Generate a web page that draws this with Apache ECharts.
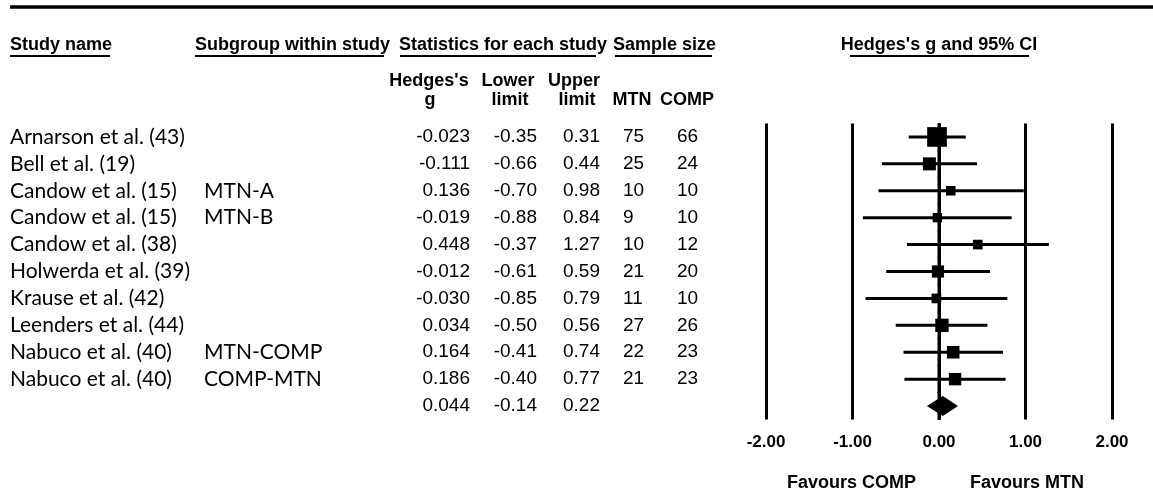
<!DOCTYPE html>
<html>
<head>
<meta charset="utf-8">
<script src="https://cdn.jsdelivr.net/npm/echarts@6/dist/echarts.min.js"></script>
<style>
html,body{margin:0;padding:0;background:#fff;}
#chart{width:1153px;height:498px;}
</style>
</head>
<body>
<div id="chart"></div>
<script>
// ---- data ----
const studyNames = ['Arnarson et al. (43)', 'Bell et al. (19)', 'Candow et al. (15)', 'Candow et al. (15)', 'Candow et al. (38)', 'Holwerda et al. (39)', 'Krause et al. (42)', 'Leenders et al. (44)', 'Nabuco et al. (40)', 'Nabuco et al. (40)', ''];
const subgroups = ['', '', 'MTN-A', 'MTN-B', '', '', '', '', 'MTN-COMP', 'COMP-MTN', ''];
const hedgesG = [-0.023, -0.111, 0.136, -0.019, 0.448, -0.012, -0.030, 0.034, 0.164, 0.186, 0.044];
const lowerLimit = [-0.35, -0.66, -0.70, -0.88, -0.37, -0.61, -0.85, -0.50, -0.41, -0.40, -0.14];
const upperLimit = [0.31, 0.44, 0.98, 0.84, 1.27, 0.59, 0.79, 0.56, 0.74, 0.77, 0.22];
const sampleMTN = [75, 25, 10, 9, 10, 21, 11, 27, 22, 21, null];
const sampleCOMP = [66, 24, 10, 10, 12, 20, 10, 26, 23, 23, null];
const summaryRow = 10;
const xTickMin = -2, xTickMax = 2, xTickStep = 1;
const nullEffect = 0;

// ---- layout ----
const rowIds = studyNames.map((_, i) => 'r' + i);
const GRID_TOP = 123.5, GRID_H = 296;
const numFont = '19px "Liberation Sans", Arial, sans-serif';
const nameFont = '21px Lato, "Noto Sans", sans-serif';
const boldFont = 'bold 18px "Liberation Sans", Arial, sans-serif';

const chart = echarts.init(document.getElementById('chart'), null, {renderer: 'canvas'});

function txt(x, y, text, font, align) {
  return {type: 'text', x: x, y: y, silent: true,
    style: {text: text, font: font, fill: '#000', textAlign: align || 'left', textVerticalAlign: 'middle'}};
}
function hline(x1, x2, y, w) {
  return {type: 'line', silent: true, shape: {x1: x1, y1: y, x2: x2, y2: y}, style: {stroke: '#000', lineWidth: w}};
}

const tableCols = {name: 10, sub: 204, g: 470, lo: 537, hi: 600, mtn: 623, comp: 677};

const option = {
  animation: false,
  backgroundColor: '#fff',
  grid: [
    {left: 766, width: 346, top: GRID_TOP, height: GRID_H},
    {left: 0, width: 740, top: GRID_TOP, height: GRID_H}
  ],
  xAxis: [
    {gridIndex: 0, type: 'value', min: xTickMin, max: xTickMax, interval: xTickStep,
      axisLine: {show: false}, axisTick: {show: false},
      splitLine: {show: true, lineStyle: {color: '#000', width: 3}},
      axisLabel: {formatter: v => v.toFixed(2), fontWeight: 'bold', fontSize: 17, color: '#000',
        fontFamily: '"Liberation Sans", Arial, sans-serif', margin: 14}},
    {gridIndex: 1, type: 'value', min: 0, max: 740, show: false}
  ],
  yAxis: [
    {gridIndex: 0, type: 'category', data: rowIds, inverse: true, show: false},
    {gridIndex: 1, type: 'category', data: rowIds, inverse: true, show: false}
  ],
  graphic: [
    hline(10, 1153, 7, 3.5),
    txt(10, 45, 'Study name', boldFont),
    hline(10, 110, 56, 2),
    txt(195, 45, 'Subgroup within study', boldFont),
    hline(195, 384, 56, 2),
    txt(399, 45, 'Statistics for each study', boldFont),
    hline(400, 596, 56, 2),
    txt(613, 45, 'Sample size', boldFont),
    hline(615, 712, 56, 2),
    txt(939, 45, "Hedges's g and 95% CI", boldFont, 'center'),
    hline(850, 1029, 56, 2),
    txt(429, 81, "Hedges's", boldFont, 'center'),
    txt(430, 100, 'g', boldFont, 'center'),
    txt(508, 81, 'Lower', boldFont, 'center'),
    txt(510, 100, 'limit', boldFont, 'center'),
    txt(574, 81, 'Upper', boldFont, 'center'),
    txt(577, 100, 'limit', boldFont, 'center'),
    txt(632, 100, 'MTN', boldFont, 'center'),
    txt(687, 100, 'COMP', boldFont, 'center'),
    txt(916, 483, 'Favours COMP', boldFont, 'right'),
    txt(970, 483, 'Favours MTN', boldFont, 'left')
  ],
  series: [
    {
      type: 'custom', xAxisIndex: 0, yAxisIndex: 0, silent: true,
      data: hedgesG.map((g, i) => [i, g, lowerLimit[i], upperLimit[i]]),
      encode: {y: 0, x: [1, 2, 3]},
      renderItem: function (params, api) {
        const i = api.value(0);
        const c = api.coord([api.value(1), i]);
        const l = api.coord([api.value(2), i]);
        const h = api.coord([api.value(3), i]);
        const z = api.coord([nullEffect, i]);
        const band = api.size([0, 1])[1];
        const zeroSeg = {type: 'line', shape: {x1: z[0], y1: z[1] - band / 2 - 0.5, x2: z[0], y2: z[1] + band / 2 + 0.5},
          style: {stroke: '#000', lineWidth: 3}};
        if (i === summaryRow) {
          const hh = 10;
          return {type: 'group', children: [zeroSeg,
            {type: 'polygon', shape: {points: [[l[0], c[1]], [c[0], c[1] - hh], [h[0], c[1]], [c[0], c[1] + hh]]},
              style: {fill: '#000'}}]};
        }
        const s = 3 + 11 / (api.value(3) - api.value(2));
        return {type: 'group', children: [
          zeroSeg,
          {type: 'line', shape: {x1: l[0], y1: c[1], x2: h[0], y2: c[1]}, style: {stroke: '#000', lineWidth: 3}},
          {type: 'rect', shape: {x: c[0] - s / 2, y: c[1] - s / 2, width: s, height: s}, style: {fill: '#000'}}
        ]};
      }
    },
    {
      type: 'custom', xAxisIndex: 1, yAxisIndex: 1, silent: true,
      data: studyNames.map((_, i) => [i]),
      encode: {y: 0},
      renderItem: function (params, api) {
        const i = api.value(0);
        const y = api.coord([0, i])[1];
        const X = k => api.coord([tableCols[k], i])[0];
        const kids = [
          txt(X('name'), y, studyNames[i], nameFont),
          txt(X('sub'), y, subgroups[i], nameFont),
          txt(X('g'), y, hedgesG[i].toFixed(3), numFont, 'right'),
          txt(X('lo'), y, lowerLimit[i].toFixed(2), numFont, 'right'),
          txt(X('hi'), y, upperLimit[i].toFixed(2), numFont, 'right')
        ];
        if (sampleMTN[i] != null) kids.push(txt(X('mtn'), y, String(sampleMTN[i]), numFont, 'left'));
        if (sampleCOMP[i] != null) kids.push(txt(X('comp'), y, String(sampleCOMP[i]), numFont, 'left'));
        return {type: 'group', children: kids};
      }
    }
  ]
};
chart.setOption(option);
</script>
</body>
</html>
